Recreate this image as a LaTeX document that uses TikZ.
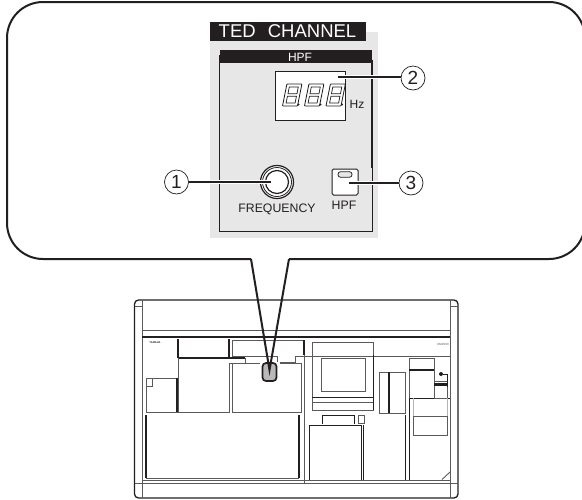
\documentclass[tikz,border=0pt]{standalone}
\usepackage{fontspec}
\setmainfont{Liberation Sans}
\definecolor{panelgray}{HTML}{E6E7E6}
\definecolor{ink}{HTML}{231F20}
\definecolor{midgray}{HTML}{5A5A5A}
\tikzset{
  thin line/.style={draw=ink,line width=0.9pt},
  gray line/.style={draw=midgray,line width=0.9pt},
  thick line/.style={draw=ink,line width=1.3pt},
  heavy line/.style={draw=ink,line width=2.2pt},
  leader/.style={draw=ink,line width=1.6pt,preaction={draw=white,line width=4pt}},
  callout/.style={circle,draw=ink,line width=0.7pt,fill=white,minimum size=24pt,inner sep=0pt,font=\fontsize{19}{19}\selectfont,text=ink},
  label text/.style={font=\fontsize{12.3}{12.3}\selectfont,text=ink,inner sep=0pt},
  balloon/.style={draw=ink,line width=2pt}
}
\newcommand{\segdigit}[2]{%
  \begin{scope}[shift={(#1,#2)},xslant=0.2]
    \draw[ink,line width=0.8pt,rounded corners=0.6pt] (0,0) rectangle (-15,-22);
    \draw[ink,line width=0.7pt] (-3,-3) rectangle (-12,-9.7);
    \draw[ink,line width=0.7pt] (-3,-12.3) rectangle (-12,-19);
  \end{scope}}
\begin{document}
\begin{tikzpicture}[x=1pt,y=-1pt]
\useasboundingbox (0,0) rectangle (582,499);
\fill[white] (0,0) rectangle (582,499);
% panel
\fill[panelgray] (210,32) rectangle (378,238);
\fill[ink] (210,22) rectangle (366,41);
\node[inner sep=0pt,text=white,font=\fontsize{18.5}{18.5}\selectfont] (title) at (287.5,31.5) {TED\hspace{7pt} CHANNEL};
\fill[ink] (219.5,50) rectangle (372,62.5);
\node[inner sep=0pt,text=white,font=\fontsize{12}{12}\selectfont] (hpfbar) at (300,57) {HPF};
\draw[thin line] (219.5,55) -- (219.5,231) -- (372,231) -- (372,168);
\draw[thick line] (372,60) -- (372,168);
% display
\node[draw=ink,line width=0.8pt,fill=white,minimum width=70pt,minimum height=49pt,inner sep=0pt] (display) at (310,95.5) {};
\segdigit{297.5}{106}
\segdigit{319.5}{106}
\segdigit{341}{106}
\fill[ink] (298.5,104.5) circle (1.1pt) (320.5,104.5) circle (1.1pt) (342,104.5) circle (1.1pt);
\node[label text,font=\fontsize{12}{12}\selectfont] (hz) at (357,104) {Hz};
% knob
\node[circle,draw=ink,line width=1.2pt,fill=white,minimum size=33pt,inner sep=0pt] (knob) at (277,182) {};
\node[circle,draw=ink,line width=0.8pt,fill=white,minimum size=29pt,inner sep=0pt] (knobring) at (277,182) {};
\node[circle,draw=ink,line width=1.2pt,fill=white,minimum size=23pt,inner sep=0pt] (knobcap) at (277,182) {};
\node[label text] (freq) at (277,209.5) {FREQUENCY};
% switch
\node[draw=ink,line width=1pt,fill=white,rounded corners=1.5pt,minimum width=26pt,minimum height=26pt,inner sep=0pt] (switch) at (345,182) {};
\node[draw=ink,line width=0.8pt,fill=panelgray,rounded corners=2.5pt,minimum width=14pt,minimum height=5.5pt,inner sep=0pt] (led) at (345,174.5) {};
\node[label text] (hpf) at (344,205) {HPF};
% callouts
\node[callout] (c1) at (176.5,182) {1};
\node[callout] (c2) at (413,78) {2};
\node[callout] (c3) at (411,183) {3};
\coordinate (p1) at (271,182);
\coordinate (p2) at (338,77);
\coordinate (p3) at (349,183);
\draw[leader] (c1.east) -- (p1);
\draw[leader] (c2.west) ++(0,-1) -- (p2);
\draw[leader] (c3.west) -- (p3);
% mixer outline
\draw[thick line,rounded corners=4pt] (134.5,300) rectangle (458,498);
\draw[gray line] (142,300) -- (142,498) (450,300) -- (450,498);
\draw[gray line] (134.5,306) -- (142,306) (450,306) -- (458,306) (134.5,483) -- (142,483) (450,483) -- (458,483);
\draw[gray line] (142,330) -- (450,330);
\draw[thick line] (142,337) -- (450,337);
\draw[gray line] (142,480.5) -- (450,480.5);
\draw[gray line] (142,483.5) -- (450,483.5);
% left bays
\draw[heavy line,line width=1.6pt] (178,339) -- (178,358);
\draw[thick line] (178,358) -- (245,358);
\draw[heavy line,line width=1.6pt] (229,339) -- (229,357);
\draw[gray line] (245,358) -- (245,363) -- (260,363);
\draw[gray line] (229.5,363) -- (229.5,412) -- (178,412) -- (178,358);
\draw[gray line] (229.5,363) -- (245,363);
\draw[gray line] (232,340) -- (232,356) -- (277,356) -- (277,362) (280,362) -- (295,362) -- (295,356) -- (304,356);
\draw[gray line] (232,340) -- (304,340);
\draw[gray line] (280,363.5) -- (301,363.5) -- (301,412) -- (232,412) -- (232,363.5) -- (260,363.5);
\draw[gray line] (146,412) -- (177,412) -- (177,378) -- (146,378) -- cycle;
\draw[thick line] (177,378) -- (177,412);
\draw[gray line] (146,386.5) -- (152,386.5) -- (152,378);
\draw[thick line] (146,415) -- (146,478);
\draw[thick line] (299,415) -- (299,478);
\draw[draw=midgray,line width=1.8pt] (146,478.5) -- (299,478.5);
\node[inner sep=0pt,font=\fontsize{2.6}{2.6}\selectfont\bfseries,text=ink] (logo) at (155,343) {YAMAHA};
\node[inner sep=0pt,font=\fontsize{3}{3}\selectfont,text=midgray] (model) at (443,344) {DM2000};
% center divider
\draw[heavy line] (304,340) -- (304,355);
\draw[gray line] (304,355) -- (304,483);
\draw[gray line] (304,356) -- (450,356);
% monitor
\draw[gray line] (312,342) rectangle (373,410);
\draw[gray line] (321,358) rectangle (365,391);
\draw[thin line] (312,397) -- (373,397);
\draw[gray line] (312,402) -- (373,402);
\draw[thin line] (373,355) -- (373,410);
% channel strip box
\draw[gray line] (379,372) rectangle (405,413);
\draw[thick line] (389,372) -- (389,413);
\draw[thin line] (405,415) -- (405,480);
% lower centre
\draw[thin line] (322,424) -- (322,415) -- (354,415) -- (354,424);
\draw[thin line] (309,480) -- (309,425) -- (361,425) -- (361,480);
\draw[gray line] (358,415) rectangle (364,423);
\draw[thin line] (363.5,425) -- (363.5,480);
% right section
\draw[gray line] (409,358) rectangle (434,398);
\draw[thick line] (409,370) -- (434,370);
\draw[thin line] (409,398) -- (450,398);
\draw[thin line] (409,398) -- (409,480);
\draw[gray line] (434,381) rectangle (447,398);
\draw[heavy line] (434,384.5) -- (447,384.5);
\node[circle,fill=ink,minimum size=4pt,inner sep=0pt] (dot) at (441,374) {};
\draw[thin line] (dot) -- (447.5,374) -- (447.5,387);
\draw[draw=midgray!45,line width=0.5pt] (413,398) -- (413,416) (447,398) -- (447,416);
\draw[gray line] (413,416) rectangle (447,435);
\draw[gray line] (442,479.5) -- (450,472);
% selector
\node[draw=ink,line width=1.7pt,fill=gray!55,rounded corners=3.5pt,minimum width=14pt,minimum height=18pt,inner sep=0pt] (selector) at (269.5,372) {};
% balloon, with its tail running into the selector
\coordinate (tailtip) at (269.5,370);
\coordinate (tailleft) at (251,259);
\coordinate (tailright) at (289,259);
\draw[balloon,line join=round]
  (tailright) -- (549,259)
  arc[start angle=90,end angle=0,radius=36] -- (585,38)
  arc[start angle=0,end angle=-90,radius=36] -- (43,2)
  arc[start angle=270,end angle=180,radius=36] -- (7,223)
  arc[start angle=180,end angle=90,radius=36] -- (tailleft);
\draw[balloon,line join=miter] (tailleft) -- (tailtip) -- (tailright);
\end{tikzpicture}
\end{document}
